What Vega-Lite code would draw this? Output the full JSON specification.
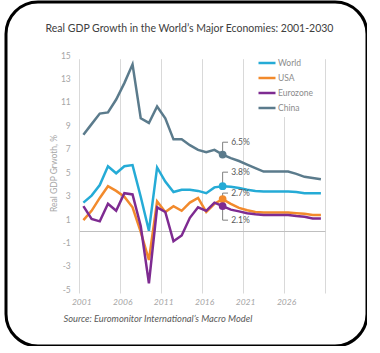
{
  "$schema": "https://vega.github.io/schema/vega-lite/v6.json",
  "width": 361,
  "height": 344,
  "autosize": {"type": "none"},
  "padding": {"left": 6, "top": 2, "right": 0, "bottom": 0},
  "background": "white",
  "title": {
    "text": "Real GDP Growth in the World’s Major Economies: 2001-2030",
    "anchor": "middle", "frame": "group", "orient": "top", "offset": 0,
    "dy": 40, "dx": 3, "baseline": "alphabetic",
    "font": "Lato", "fontSize": 10.5, "fontWeight": "normal", "color": "#404040"
  },
  "config": {
    "view": {"stroke": "#000000", "strokeWidth": 3, "cornerRadius": 32, "fill": "white"},
    "font": "Lato"
  },
  "data": {
    "values": [
      {"year": 2001, "series": "World", "value": 2.4},
      {"year": 2002, "series": "World", "value": 3.0},
      {"year": 2003, "series": "World", "value": 3.9},
      {"year": 2004, "series": "World", "value": 5.5},
      {"year": 2005, "series": "World", "value": 4.9},
      {"year": 2006, "series": "World", "value": 5.5},
      {"year": 2007, "series": "World", "value": 5.6},
      {"year": 2008, "series": "World", "value": 2.9},
      {"year": 2009, "series": "World", "value": 0.0},
      {"year": 2010, "series": "World", "value": 5.4},
      {"year": 2011, "series": "World", "value": 4.2},
      {"year": 2012, "series": "World", "value": 3.3},
      {"year": 2013, "series": "World", "value": 3.5},
      {"year": 2014, "series": "World", "value": 3.5},
      {"year": 2015, "series": "World", "value": 3.4},
      {"year": 2016, "series": "World", "value": 3.2},
      {"year": 2017, "series": "World", "value": 3.7},
      {"year": 2018, "series": "World", "value": 3.8},
      {"year": 2019, "series": "World", "value": 3.75},
      {"year": 2020, "series": "World", "value": 3.65},
      {"year": 2021, "series": "World", "value": 3.5},
      {"year": 2022, "series": "World", "value": 3.4},
      {"year": 2023, "series": "World", "value": 3.35},
      {"year": 2024, "series": "World", "value": 3.35},
      {"year": 2025, "series": "World", "value": 3.35},
      {"year": 2026, "series": "World", "value": 3.35},
      {"year": 2027, "series": "World", "value": 3.3},
      {"year": 2028, "series": "World", "value": 3.2},
      {"year": 2029, "series": "World", "value": 3.2},
      {"year": 2030, "series": "World", "value": 3.2},
      {"year": 2001, "series": "USA", "value": 0.9},
      {"year": 2002, "series": "USA", "value": 1.7},
      {"year": 2003, "series": "USA", "value": 2.8},
      {"year": 2004, "series": "USA", "value": 3.8},
      {"year": 2005, "series": "USA", "value": 3.4},
      {"year": 2006, "series": "USA", "value": 2.9},
      {"year": 2007, "series": "USA", "value": 2.0},
      {"year": 2008, "series": "USA", "value": -0.1},
      {"year": 2009, "series": "USA", "value": -2.5},
      {"year": 2010, "series": "USA", "value": 2.5},
      {"year": 2011, "series": "USA", "value": 1.6},
      {"year": 2012, "series": "USA", "value": 2.1},
      {"year": 2013, "series": "USA", "value": 1.7},
      {"year": 2014, "series": "USA", "value": 2.4},
      {"year": 2015, "series": "USA", "value": 2.8},
      {"year": 2016, "series": "USA", "value": 1.6},
      {"year": 2017, "series": "USA", "value": 2.3},
      {"year": 2018, "series": "USA", "value": 2.7},
      {"year": 2019, "series": "USA", "value": 2.3},
      {"year": 2020, "series": "USA", "value": 1.95},
      {"year": 2021, "series": "USA", "value": 1.75},
      {"year": 2022, "series": "USA", "value": 1.6},
      {"year": 2023, "series": "USA", "value": 1.55},
      {"year": 2024, "series": "USA", "value": 1.55},
      {"year": 2025, "series": "USA", "value": 1.55},
      {"year": 2026, "series": "USA", "value": 1.55},
      {"year": 2027, "series": "USA", "value": 1.5},
      {"year": 2028, "series": "USA", "value": 1.45},
      {"year": 2029, "series": "USA", "value": 1.35},
      {"year": 2030, "series": "USA", "value": 1.35},
      {"year": 2001, "series": "Eurozone", "value": 2.1},
      {"year": 2002, "series": "Eurozone", "value": 1.0},
      {"year": 2003, "series": "Eurozone", "value": 0.8},
      {"year": 2004, "series": "Eurozone", "value": 2.3},
      {"year": 2005, "series": "Eurozone", "value": 1.7},
      {"year": 2006, "series": "Eurozone", "value": 3.2},
      {"year": 2007, "series": "Eurozone", "value": 3.1},
      {"year": 2008, "series": "Eurozone", "value": 0.4},
      {"year": 2009, "series": "Eurozone", "value": -4.5},
      {"year": 2010, "series": "Eurozone", "value": 2.0},
      {"year": 2011, "series": "Eurozone", "value": 1.6},
      {"year": 2012, "series": "Eurozone", "value": -0.9},
      {"year": 2013, "series": "Eurozone", "value": -0.4},
      {"year": 2014, "series": "Eurozone", "value": 1.1},
      {"year": 2015, "series": "Eurozone", "value": 2.0},
      {"year": 2016, "series": "Eurozone", "value": 1.7},
      {"year": 2017, "series": "Eurozone", "value": 2.4},
      {"year": 2018, "series": "Eurozone", "value": 2.1},
      {"year": 2019, "series": "Eurozone", "value": 1.8},
      {"year": 2020, "series": "Eurozone", "value": 1.65},
      {"year": 2021, "series": "Eurozone", "value": 1.5},
      {"year": 2022, "series": "Eurozone", "value": 1.4},
      {"year": 2023, "series": "Eurozone", "value": 1.35},
      {"year": 2024, "series": "Eurozone", "value": 1.35},
      {"year": 2025, "series": "Eurozone", "value": 1.35},
      {"year": 2026, "series": "Eurozone", "value": 1.35},
      {"year": 2027, "series": "Eurozone", "value": 1.25},
      {"year": 2028, "series": "Eurozone", "value": 1.2},
      {"year": 2029, "series": "Eurozone", "value": 1.05},
      {"year": 2030, "series": "Eurozone", "value": 1.05},
      {"year": 2001, "series": "China", "value": 8.2},
      {"year": 2002, "series": "China", "value": 9.1},
      {"year": 2003, "series": "China", "value": 10.0},
      {"year": 2004, "series": "China", "value": 10.1},
      {"year": 2005, "series": "China", "value": 11.2},
      {"year": 2006, "series": "China", "value": 12.6},
      {"year": 2007, "series": "China", "value": 14.2},
      {"year": 2008, "series": "China", "value": 9.6},
      {"year": 2009, "series": "China", "value": 9.2},
      {"year": 2010, "series": "China", "value": 10.6},
      {"year": 2011, "series": "China", "value": 9.6},
      {"year": 2012, "series": "China", "value": 7.8},
      {"year": 2013, "series": "China", "value": 7.8},
      {"year": 2014, "series": "China", "value": 7.3},
      {"year": 2015, "series": "China", "value": 6.9},
      {"year": 2016, "series": "China", "value": 6.7},
      {"year": 2017, "series": "China", "value": 6.9},
      {"year": 2018, "series": "China", "value": 6.5},
      {"year": 2019, "series": "China", "value": 6.2},
      {"year": 2020, "series": "China", "value": 5.95},
      {"year": 2021, "series": "China", "value": 5.65},
      {"year": 2022, "series": "China", "value": 5.35},
      {"year": 2023, "series": "China", "value": 5.05},
      {"year": 2024, "series": "China", "value": 5.05},
      {"year": 2025, "series": "China", "value": 5.05},
      {"year": 2026, "series": "China", "value": 5.05},
      {"year": 2027, "series": "China", "value": 4.85},
      {"year": 2028, "series": "China", "value": 4.6},
      {"year": 2029, "series": "China", "value": 4.5},
      {"year": 2030, "series": "China", "value": 4.4}
    ]
  },
  "encoding": {
    "x": {
      "field": "year", "type": "quantitative",
      "scale": {"domain": [2000.5, 2030.5], "range": [73.3, 319], "nice": false, "zero": false},
      "axis": {
        "values": [2000.5, 2005.5, 2010.5, 2015.5, 2020.5, 2025.5, 2030.5],
        "grid": true, "gridColor": "#d9d9d9", "gridWidth": 1,
        "domain": false, "ticks": false, "offset": -56.7,
        "labelExpr": "datum.value < 2030 ? format(datum.value + 0.5, 'd') : ''",
        "labelFont": "Lato", "labelFontSize": 8.5, "labelFontStyle": "italic", "labelColor": "#a6a6a6",
        "labelPadding": 8, "labelOffset": 2, "labelFlush": false, "labelOverlap": false, "labelBound": false,
        "title": "Source: Euromonitor International’s Macro Model",
        "titleFont": "Lato", "titleFontSize": 9.3, "titleFontStyle": "italic", "titleFontWeight": "normal",
        "titleColor": "#595959", "titleAnchor": "start", "titleAlign": "left",
        "titleX": 57, "titleY": 29, "titleBaseline": "middle"
      }
    },
    "y": {
      "field": "value", "type": "quantitative",
      "scale": {"domain": [-5, 15], "range": [287.3, 53], "nice": false, "zero": false},
      "axis": {
        "values": [-5, -3, -1, 0, 1, 3, 5, 7, 9, 11, 13, 15],
        "grid": true,
        "gridColor": {"condition": {"test": "datum.value === 0", "value": "#bfbfbf"}, "value": "rgba(0,0,0,0)"},
        "domain": false, "ticks": false, "offset": -73.3,
        "labelExpr": "datum.value === 0 ? '' : toString(datum.value)",
        "labelFont": "Lato", "labelFontSize": 8.5, "labelColor": "#a6a6a6", "labelPadding": 9,
        "title": "Real GDP Grwoth, %",
        "titleFont": "Lato", "titleFontSize": 8.5, "titleFontWeight": "normal", "titleColor": "#a6a6a6",
        "titleX": -26, "titleY": 171, "titleBaseline": "middle", "titleAngle": -90, "titleAlign": "center"
      }
    }
  },
  "layer": [
    {
      "mark": {"type": "line", "strokeWidth": 2.5},
      "encoding": {
        "color": {
          "field": "series", "type": "nominal",
          "scale": {"domain": ["World", "USA", "Eurozone", "China"], "range": ["#25abd6", "#f28a2c", "#7e2b91", "#5b7b8c"]},
          "legend": {
            "orient": "none", "legendX": 247, "legendY": 47, "title": null,
            "symbolType": "stroke", "symbolSize": 289, "symbolStrokeWidth": 2.5,
            "labelFont": "Lato", "labelFontSize": 8.5, "labelColor": "#8c8c8c", "labelOffset": 1,
            "rowPadding": -1.1, "fillColor": "white", "padding": 4
          }
        }
      }
    },
    {
      "transform": [{"filter": "datum.year === 2018 && datum.series === 'China'"}],
      "mark": {"type": "point", "filled": false, "color": "#7f7f7f", "strokeWidth": 1, "size": 576, "opacity": 1, "shape": "M0,0V-1.03H0.45"}
    },
    {
      "transform": [{"filter": "datum.year === 2018 && datum.series === 'World'"}],
      "mark": {"type": "point", "filled": false, "color": "#7f7f7f", "strokeWidth": 1, "size": 576, "opacity": 1, "shape": "M0,0V-1.17H0.45"}
    },
    {
      "transform": [{"filter": "datum.year === 2018 && datum.series === 'USA'"}],
      "mark": {"type": "point", "filled": false, "color": "#7f7f7f", "strokeWidth": 1, "size": 576, "opacity": 1, "shape": "M0,0V-0.5H0.45"}
    },
    {
      "transform": [{"filter": "datum.year === 2018 && datum.series === 'Eurozone'"}],
      "mark": {"type": "point", "filled": false, "color": "#7f7f7f", "strokeWidth": 1, "size": 576, "opacity": 1, "shape": "M0,0V1.17H0.45"}
    },
    {
      "transform": [{"filter": "datum.year === 2018"}],
      "mark": {"type": "circle", "size": 60, "opacity": 1},
      "encoding": {
        "color": {"field": "series", "type": "nominal", "legend": null}
      }
    },
    {
      "transform": [{"filter": "datum.year === 2018 && datum.series === 'China'"}, {"calculate": "format(datum.value, '.1f') + '%'", "as": "label"}],
      "mark": {"type": "text", "align": "left", "baseline": "middle", "dx": 8.5, "dy": -12.3, "fontSize": 8.5, "color": "#595959"},
      "encoding": {"text": {"field": "label"}}
    },
    {
      "transform": [{"filter": "datum.year === 2018 && datum.series === 'World'"}, {"calculate": "format(datum.value, '.1f') + '%'", "as": "label"}],
      "mark": {"type": "text", "align": "left", "baseline": "middle", "dx": 8.5, "dy": -14, "fontSize": 8.5, "color": "#595959"},
      "encoding": {"text": {"field": "label"}}
    },
    {
      "transform": [{"filter": "datum.year === 2018 && datum.series === 'USA'"}, {"calculate": "format(datum.value, '.1f') + '%'", "as": "label"}],
      "mark": {"type": "text", "align": "left", "baseline": "middle", "dx": 8.5, "dy": -6, "fontSize": 8.5, "color": "#595959"},
      "encoding": {"text": {"field": "label"}}
    },
    {
      "transform": [{"filter": "datum.year === 2018 && datum.series === 'Eurozone'"}, {"calculate": "format(datum.value, '.1f') + '%'", "as": "label"}],
      "mark": {"type": "text", "align": "left", "baseline": "middle", "dx": 8.5, "dy": 14, "fontSize": 8.5, "color": "#595959"},
      "encoding": {"text": {"field": "label"}}
    }
  ]
}
